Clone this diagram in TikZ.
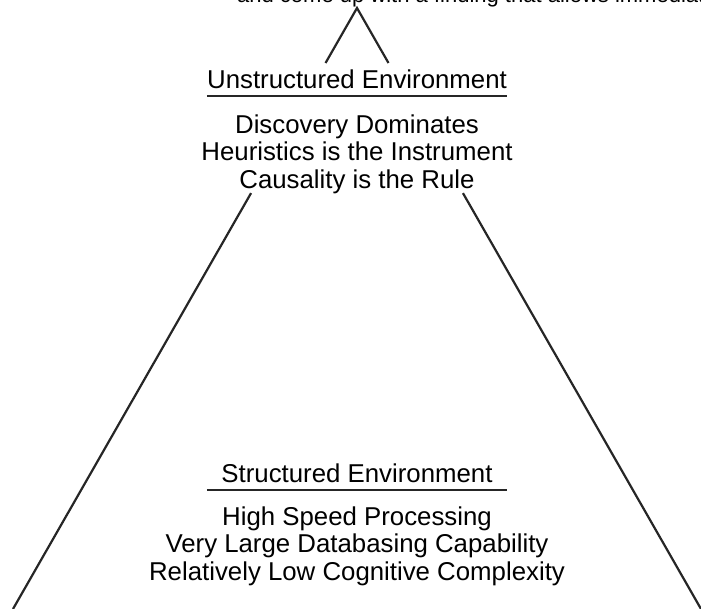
\documentclass[tikz,border=0pt]{standalone}
\usepackage{fontspec}
\setmainfont{Liberation Sans}
\usetikzlibrary{positioning,calc}

\begin{document}
\begin{tikzpicture}[
  x=1pt,y=1pt,
  node distance=17pt,
  heading/.style={minimum width=300pt,inner sep=0pt,text depth=7pt,font=\fontsize{25.8}{27.5}\selectfont},
  lines/.style={align=center,inner sep=0pt,font=\fontsize{25.8}{27.5}\selectfont},
  side/.style={line width=2.2pt,black!85},
  rule/.style={line width=2.4pt,black!85}
]
  \useasboundingbox (0,0) rectangle (701,609);

  \node[anchor=base west,inner sep=0pt,font=\fontsize{22}{24}\selectfont] (caption) at (237,606.5) {and come up with a finding that allows immediat};

  \coordinate (apex) at (357,601);
  \coordinate (baseL) at (13,0);
  \coordinate (baseR) at (701,0);

  \node[heading,anchor=base] (unstr) at (357,520) {Unstructured Environment};
  \node[lines,below=18pt of unstr] (unstrbody) {Discovery Dominates\\Heuristics is the Instrument\\Causality is the Rule};

  \node[heading,anchor=base] (str) at (357,126) {Structured Environment};
  \node[lines,below=16pt of str] (strbody) {High Speed Processing\\Very Large Databasing Capability\\Relatively Low Cognitive Complexity};

  \draw[rule] (unstr.south west) -- (unstr.south east);
  \draw[rule] (str.south west) -- (str.south east);

  % the pyramid sides, broken by the upper text
  \draw[side] ($(apex)!0.0915!(baseL)$) -- (apex) -- ($(apex)!0.0915!(baseR)$);
  \draw[side] ($(apex)!0.308!(baseL)$) -- (baseL);
  \draw[side] ($(apex)!0.308!(baseR)$) -- (baseR);
\end{tikzpicture}
\end{document}
